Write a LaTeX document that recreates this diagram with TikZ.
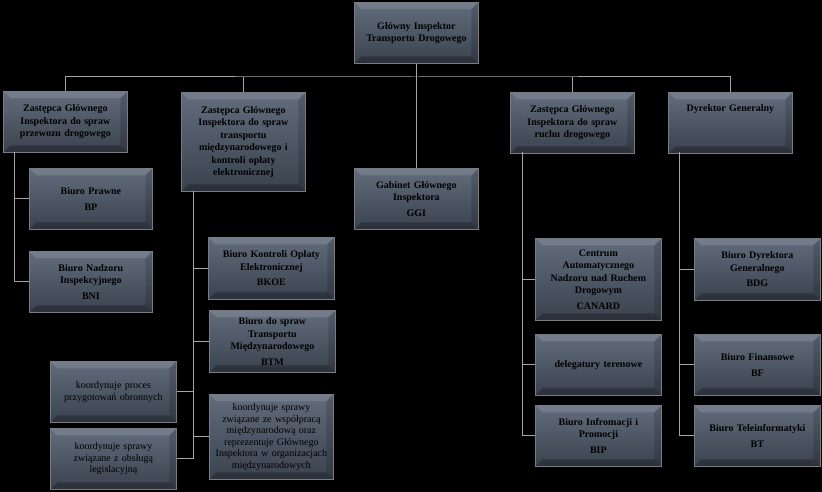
\documentclass[tikz,border=0pt]{standalone}
\usepackage{fontspec}
\setmainfont{Liberation Serif}
\begin{document}
\definecolor{bxtop}{RGB}{98,108,124}
\definecolor{bxbot}{RGB}{58,66,78}
\definecolor{bxedge}{RGB}{120,124,130}
\definecolor{ln}{RGB}{165,165,165}
\begin{tikzpicture}[x=1pt,y=-1pt,
  box/.style={draw=bxedge,line width=0.8pt,top color=bxtop,bottom color=bxbot,
    anchor=north west,align=center,font=\fontsize{10}{12.5}\selectfont\bfseries,
    inner sep=2pt,
    path picture={
      \fill[white,opacity=0.12] (path picture bounding box.north west) -- (path picture bounding box.north east) -- ([xshift=-7pt,yshift=-7pt]path picture bounding box.north east) -- ([xshift=7pt,yshift=-7pt]path picture bounding box.north west) -- cycle;
      \fill[black,opacity=0.25] (path picture bounding box.south west) -- (path picture bounding box.south east) -- ([xshift=-7pt,yshift=7pt]path picture bounding box.south east) -- ([xshift=7pt,yshift=7pt]path picture bounding box.south west) -- cycle;
      \fill[black,opacity=0.15] (path picture bounding box.north east) -- (path picture bounding box.south east) -- ([xshift=-7pt,yshift=7pt]path picture bounding box.south east) -- ([xshift=-7pt,yshift=-7pt]path picture bounding box.north east) -- cycle;
    }},
  note/.style={box,font=\fontsize{10}{11.5}\selectfont},
  conn/.style={draw=ln,line width=1pt}]
\fill[black] (0,0) rectangle (822,492);
\useasboundingbox (0,0) rectangle (822,492);
% level 0
\node[box,minimum width=124,minimum height=61,text width=120] (gitd) at (354,2) {Główny Inspektor\\Transportu Drogowego};
% level 1
\node[box,minimum width=124,minimum height=61,text width=120] (z1) at (3,91) {Zastępca Głównego\\Inspektora do spraw\\przewozu drogowego};
\node[box,minimum width=124,minimum height=99,text width=120] (z2) at (181,92) {Zastępca Głównego\\Inspektora do spraw\\transportu\\międzynarodowego i\\kontroli opłaty\\elektronicznej};
\node[box,minimum width=124,minimum height=61,text width=120] (gab) at (354,168) {Gabinet Głównego\\Inspektora\\[3pt]GGI};
\node[box,minimum width=124,minimum height=61,text width=120] (z3) at (510,92) {Zastępca Głównego\\Inspektora do spraw\\ruchu drogowego};
\node[box,minimum width=124,minimum height=61,text width=120,text depth=30pt] (dyr) at (668,92) {Dyrektor Generalny};
% children z1
\node[box,minimum width=123,minimum height=61,text width=118] (bp) at (29,168) {Biuro Prawne\\[3pt]BP};
\node[box,minimum width=123,minimum height=61,text width=118] (bni) at (29,251) {Biuro Nadzoru\\Inspekcyjnego\\[3pt]BNI};
% children z2
\node[box,minimum width=124,minimum height=62,text width=122] (bkoe) at (208,237) {Biuro Kontroli Opłaty\\Elektronicznej\\[3pt]BKOE};
\node[box,minimum width=124,minimum height=62,text width=122] (btm) at (209,310) {Biuro do spraw\\Transportu\\Międzynarodowego\\[3pt]BTM};
\node[note,minimum width=124,minimum height=85,text width=124,inner sep=0pt] (k3) at (209,394) {koordynuje sprawy\\związane ze współpracą\\międzynarodową oraz\\reprezentuje Głównego\\Inspektora w organizacjach\\międzynarodowych};
\node[note,minimum width=125,minimum height=61,text width=122] (k1) at (50,361) {koordynuje proces\\przygotowań obronnych};
\node[note,minimum width=125,minimum height=61,text width=122] (k2) at (50,428) {koordynuje sprawy\\związane z obsługą\\legislacyjną};
% children z3
\node[box,minimum width=124,minimum height=82,text width=122] (can) at (535,238) {Centrum\\Automatycznego\\Nadzoru nad Ruchem\\Drogowym\\[3pt]CANARD};
\node[box,minimum width=124,minimum height=61,text width=122] (del) at (535,334) {delegatury terenowe};
\node[box,minimum width=124,minimum height=61,text width=122] (bip) at (535,405) {Biuro Infromacji i\\Promocji\\[3pt]BIP};
% children dyr
\node[box,minimum width=124,minimum height=62,text width=122] (bdg) at (694,238) {Biuro Dyrektora\\Generalnego\\[3pt]BDG};
\node[box,minimum width=124,minimum height=61,text width=122] (bf) at (694,334) {Biuro Finansowe\\[3pt]BF};
\node[box,minimum width=124,minimum height=61,text width=122] (bt) at (694,405) {Biuro Teleinformatyki\\[3pt]BT};
% connectors
\coordinate (bar) at (416,77);
\coordinate (t1) at (14,152);
\coordinate (t2) at (193,191);
\coordinate (t3) at (522,152);
\coordinate (t4) at (679,152);
\begin{scope}[on background layer/.style={}]
\draw[conn] (gitd.south) -- (gab.north);
\draw[conn] (z1.north) |- (bar) -| (dyr.north);
\draw[conn] (z2.north) -- (z2.north |- bar);
\draw[conn] (z3.north) -- (z3.north |- bar);
\draw[conn] (t1) |- (bni.west);
\draw[conn] (t1 |- bp.west) -- (bp.west);
\draw[conn] (t2) |- (k2.east);
\draw[conn] (t2 |- bkoe.west) -- (bkoe.west);
\draw[conn] (t2 |- btm.west) -- (btm.west);
\draw[conn] (t2 |- k1.east) -- (k1.east);
\draw[conn] (t2 |- k3.west) -- (k3.west);
\draw[conn] (t3) |- (bip.west);
\draw[conn] (t3 |- can.west) -- (can.west);
\draw[conn] (t3 |- del.west) -- (del.west);
\draw[conn] (t4) |- (bt.west);
\draw[conn] (t4 |- bdg.west) -- (bdg.west);
\draw[conn] (t4 |- bf.west) -- (bf.west);
\end{scope}
\end{tikzpicture}
\end{document}
